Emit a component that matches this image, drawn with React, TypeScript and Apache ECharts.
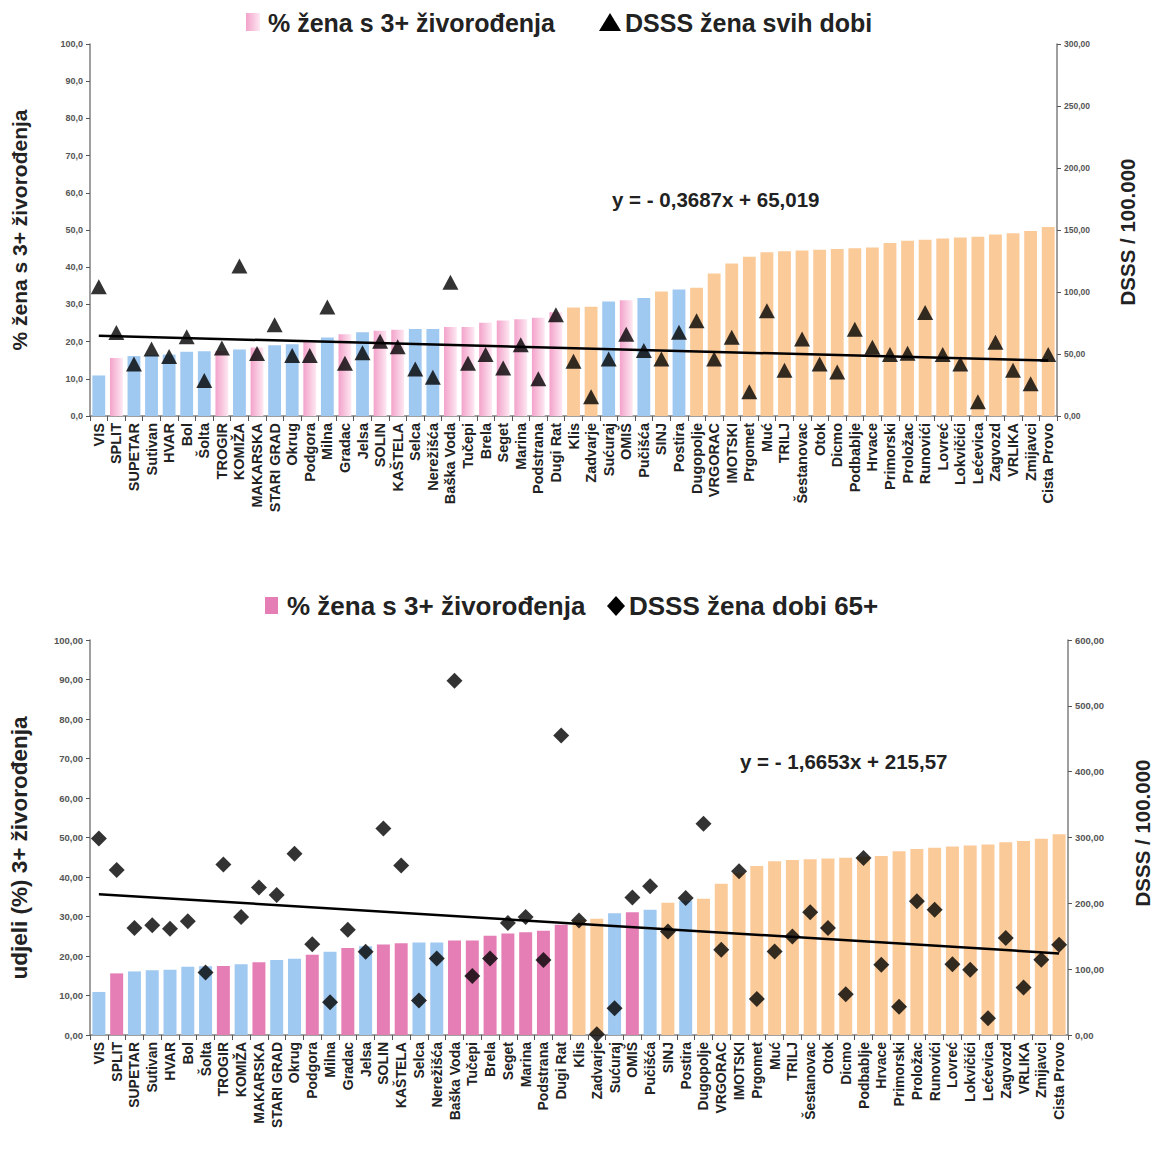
import React, { useEffect, useRef } from "react";
import * as echarts from "echarts";

const categories = [
  "VIS", "SPLIT", "SUPETAR", "Sutivan", "HVAR", "Bol", "Šolta", "TROGIR", "KOMIŽA", "MAKARSKA",
  "STARI GRAD", "Okrug", "Podgora", "Milna", "Gradac", "Jelsa", "SOLIN", "KAŠTELA", "Selca", "Nerežišća",
  "Baška Voda", "Tučepi", "Brela", "Seget", "Marina", "Podstrana", "Dugi Rat", "Klis", "Zadvarje", "Sućuraj",
  "OMIŠ", "Pučišća", "SINJ", "Postira", "Dugopolje", "VRGORAC", "IMOTSKI", "Prgomet", "Muć", "TRILJ",
  "Šestanovac", "Otok", "Dicmo", "Podbablje", "Hrvace", "Primorski", "Proložac", "Runovići", "Lovreć", "Lokvičići",
  "Lećevica", "Zagvozd", "VRLIKA", "Zmijavci", "Cista Provo",
];

// i = island (blue), c = coast (pink), h = hinterland (orange)
const groups = [
  "i", "c", "i", "i", "i", "i", "i", "c", "i", "c",
  "i", "i", "c", "i", "c", "i", "c", "c", "i", "i",
  "c", "c", "c", "c", "c", "c", "c", "h", "h", "i",
  "c", "i", "h", "i", "h", "h", "h", "h", "h", "h",
  "h", "h", "h", "h", "h", "h", "h", "h", "h", "h",
  "h", "h", "h", "h", "h",
];

const pctWomen3Plus = [
  10.9, 15.6, 16.1, 16.4, 16.5, 17.3, 17.4, 17.5, 17.9, 18.4,
  19.0, 19.3, 20.3, 21.1, 22.0, 22.5, 22.9, 23.2, 23.4, 23.4,
  23.9, 23.9, 25.1, 25.7, 26.0, 26.4, 27.9, 29.2, 29.4, 30.8,
  31.1, 31.7, 33.5, 34.0, 34.5, 38.3, 41.0, 42.8, 44.0, 44.3,
  44.5, 44.7, 44.9, 45.1, 45.3, 46.5, 47.1, 47.4, 47.7, 48.0,
  48.2, 48.8, 49.1, 49.7, 50.8,
];

const dsssAllAges = [
  104.3, 67.4, 42.0, 54.0, 47.9, 63.9, 28.6, 54.8, 121.0, 50.5,
  73.5, 48.7, 48.7, 88.0, 42.5, 51.0, 60.2, 55.9, 38.0, 31.3,
  107.8, 42.5, 49.5, 38.8, 57.5, 30.0, 81.6, 44.1, 15.5, 46.0,
  66.0, 52.8, 46.0, 67.5, 76.8, 46.0, 63.5, 19.5, 84.8, 36.8,
  62.0, 42.0, 35.5, 70.0, 55.5, 49.6, 50.7, 83.5, 49.6, 42.0,
  11.5, 59.5, 36.8, 26.0, 49.6,
];

const dsss65Plus = [
  298.5, 250.8, 162.5, 166.6, 161.5, 172.8, 94.8, 258.9, 179.4, 224.0,
  212.8, 275.4, 137.8, 49.7, 160.0, 126.6, 313.8, 257.4, 52.3, 116.3,
  538.0, 89.7, 116.3, 170.2, 179.4, 113.8, 455.0, 173.8, 1.0, 40.6,
  209.0, 225.9, 157.4, 208.0, 320.8, 129.4, 248.7, 54.8, 126.9, 149.7,
  186.3, 162.4, 62.0, 269.0, 106.6, 43.1, 203.0, 190.4, 107.6, 99.0,
  25.4, 147.2, 72.0, 114.2, 137.0,
];

const leftTicks = { min: 0, max: 100, interval: 10 };
const rightTicksTop = { min: 0, max: 300, interval: 50 };
const rightTicksBottom = { min: 0, max: 600, interval: 100 };

const trendAll = { slope: -0.3687, intercept: 65.019, label: "y = - 0,3687x + 65,019" };
const trend65 = { slope: -1.6653, intercept: 215.57, label: "y = - 1,6653x + 215,57" };

const FONT = "'Liberation Sans', Arial, sans-serif";
const BLUE = "#A0C9F1";
const ORANGE = "#FBCA99";
const PINK_TOP = new echarts.graphic.LinearGradient(0, 0, 1, 0, [
  { offset: 0, color: "#F3A2CA" },
  { offset: 1, color: "#FDE8F2" },
]);
const PINK_BOTTOM = "#E47EB4";

function barData(pinkColor: any) {
  return pctWomen3Plus.map((v, i) => ({
    value: v,
    itemStyle: {
      color: groups[i] === "i" ? BLUE : groups[i] === "c" ? pinkColor : ORANGE,
    },
  }));
}

function trendData(t: { slope: number; intercept: number }) {
  const n = categories.length;
  return categories.map((_, i) =>
    i === 0 || i === n - 1 ? +(t.intercept + t.slope * (i + 1)).toFixed(3) : null
  );
}

function xAxis(gridIndex: number, fontSize: number) {
  return {
    type: "category",
    gridIndex,
    data: categories,
    boundaryGap: true,
    axisLine: { lineStyle: { color: "#7f7f7f", width: 1.5 } },
    axisTick: { show: true, length: 5, lineStyle: { color: "#555" } },
    axisLabel: {
      interval: 0,
      rotate: 90,
      margin: 7,
      fontFamily: FONT,
      fontWeight: "bold",
      fontSize,
      color: "#222",
    },
  };
}

function yAxis(gridIndex: number, position: string, t: any, decimals: number, fs: number) {
  return {
    type: "value",
    gridIndex,
    position,
    min: t.min,
    max: t.max,
    interval: t.interval,
    splitLine: { show: false },
    axisLine: { show: true, lineStyle: { color: "#7f7f7f", width: 1.5 } },
    axisTick: { show: true, length: 4, lineStyle: { color: "#555" } },
    axisLabel: {
      fontFamily: FONT,
      fontWeight: "bold",
      fontSize: fs,
      color: "#555",
      margin: 7,
      formatter: (v: number) => v.toFixed(decimals).replace(".", ","),
    },
  };
}

function rotText(text: string, x: number, y: number, size: number) {
  return {
    type: "text",
    x,
    y,
    rotation: Math.PI / 2,
    style: {
      text,
      fontFamily: FONT,
      fontWeight: "bold",
      fontSize: size,
      fill: "#222",
      align: "center",
      verticalAlign: "middle",
    },
  };
}

function plainText(text: string, x: number, y: number, size: number) {
  return {
    type: "text",
    x,
    y,
    style: {
      text,
      fontFamily: FONT,
      fontWeight: "bold",
      fontSize: size,
      fill: "#222",
      align: "left",
      verticalAlign: "middle",
    },
  };
}

export default function App() {
  const ref = useRef<HTMLDivElement>(null);

  useEffect(() => {
    if (!ref.current) return;
    const chart = echarts.init(ref.current, undefined, { renderer: "svg" });

    const option: any = {
      animation: false,
      backgroundColor: "#ffffff",
      grid: [
        { left: 90, right: 102, top: 44, height: 372 },
        { left: 90, right: 91, top: 640, height: 395 },
      ],
      xAxis: [xAxis(0, 14.5), xAxis(1, 14)],
      yAxis: [
        yAxis(0, "left", leftTicks, 1, 9),
        yAxis(0, "right", rightTicksTop, 2, 8.5),
        yAxis(1, "left", leftTicks, 2, 9.5),
        yAxis(1, "right", rightTicksBottom, 2, 9.5),
      ],
      series: [
        {
          type: "bar",
          xAxisIndex: 0,
          yAxisIndex: 0,
          data: barData(PINK_TOP),
          barCategoryGap: "27%",
          z: 1,
        },
        {
          type: "line",
          xAxisIndex: 0,
          yAxisIndex: 1,
          data: trendData(trendAll),
          connectNulls: true,
          showSymbol: false,
          symbol: "none",
          lineStyle: { color: "#000", width: 2.5 },
          z: 2,
        },
        {
          type: "scatter",
          xAxisIndex: 0,
          yAxisIndex: 1,
          data: dsssAllAges,
          symbol: "triangle",
          symbolSize: [16, 15],
          itemStyle: { color: "#000" },
          z: 3,
        },
        {
          type: "bar",
          xAxisIndex: 1,
          yAxisIndex: 2,
          data: barData(PINK_BOTTOM),
          barCategoryGap: "27%",
          z: 1,
        },
        {
          type: "line",
          xAxisIndex: 1,
          yAxisIndex: 3,
          data: trendData(trend65),
          connectNulls: true,
          showSymbol: false,
          symbol: "none",
          lineStyle: { color: "#000", width: 2.5 },
          z: 2,
        },
        {
          type: "scatter",
          xAxisIndex: 1,
          yAxisIndex: 3,
          data: dsss65Plus,
          symbol: "diamond",
          symbolSize: [16, 16],
          itemStyle: { color: "#000" },
          z: 3,
        },
      ],
      graphic: [
        // top legend
        { type: "rect", shape: { x: 246, y: 13, width: 14, height: 18 }, style: { fill: PINK_TOP } },
        plainText("% žena s 3+ živorođenja", 268, 23, 25),
        { type: "polygon", shape: { points: [[610, 13], [599, 31], [621, 31]] }, style: { fill: "#000" } },
        plainText("DSSS žena svih dobi", 625, 23, 25),
        // top equation
        plainText(trendAll.label, 612, 199, 20.5),
        // top axis titles
        rotText("% žena s 3+ živorođenja", 19, 230, 21),
        rotText("DSSS / 100.000", 1127, 232, 20.5),
        // bottom legend
        { type: "rect", shape: { x: 265, y: 597, width: 13, height: 17 }, style: { fill: PINK_BOTTOM } },
        plainText("% žena s 3+ živorođenja", 287, 606, 26),
        { type: "polygon", shape: { points: [[616, 596], [625, 606], [616, 616], [607, 606]] }, style: { fill: "#000" } },
        plainText("DSSS žena dobi 65+", 629, 606, 26),
        // bottom equation
        plainText(trend65.label, 740, 761, 20.5),
        // bottom axis titles
        rotText("udjeli (%) 3+ živorođenja", 19, 848, 22.5),
        rotText("DSSS / 100.000", 1142, 833, 20.5),
      ],
    };

    chart.setOption(option);
    return () => chart.dispose();
  }, []);

  return (
    <div
      ref={ref}
      style={{ position: "absolute", left: 0, top: 0, width: 1159, height: 1155 }}
    />
  );
}
